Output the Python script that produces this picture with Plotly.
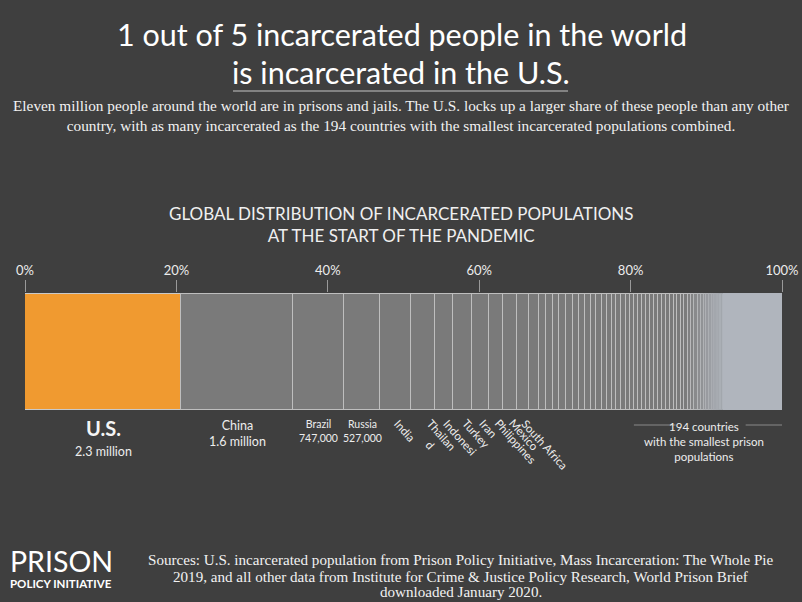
import plotly.graph_objects as go

# incarcerated people, thousands
named_countries = ["U.S.", "China", "Brazil", "Russia", "India", "Thailand",
                   "Indonesia", "Turkey", "Iran", "Philippines", "Mexico", "South Africa"]
named_pop = [2300, 1650, 747, 527, 448, 365, 266, 281, 237, 207, 204, 178]

# next countries, unlabeled
mid_pop = [148, 108, 99, 99, 99, 98, 89, 89, 84, 83, 78, 74, 74, 70, 70, 64, 64, 59]

# the 194 smallest: visible stripes, then the rest which are too thin to separate
small_pop = [59, 59, 59, 59, 59, 59, 59, 58, 58, 57, 55, 54, 49, 49, 49, 48, 46, 45,
             44, 42, 40, 39, 39, 38, 36, 34, 32]
small_rest = 854

big_labels = [("U.S.", "2.3 million"), ("China", "1.6 million"),
              ("Brazil", "747,000"), ("Russia", "527,000")]
rot_labels = ["India", "Thailan<br>d", "Indonesi", "Turkey", "Iran",
              "Philippines", "Mexico", "South Africa"]

source_lines = [
    "Sources: U.S. incarcerated population from Prison Policy Initiative, Mass Incarceration: The Whole Pie",
    "2019, and all other data from Institute for Crime &amp; Justice Policy Research, World Prison Brief",
    "downloaded January 2020.",
]

tick_vals = [0, 20, 40, 60, 80, 100]
tick_text = ["0%", "20%", "40%", "60%", "80%", "100%"]

BG = "#3f3f3f"
SANS = "Lato"
SERIF = "Liberation Serif"

segs = named_pop + mid_pop + small_pop + [small_rest]
total = sum(segs)
pct = [v / total * 100 for v in segs]

starts = []
acc = 0
for p in pct:
    starts.append(acc)
    acc += p
mids = [s + p / 2 for s, p in zip(starts, pct)]


def mix(c1, c2, t):
    return "rgb(%d,%d,%d)" % tuple(round(a + (b - a) * t) for a, b in zip(c1, c2))


fig = go.Figure()
n = len(segs)
for i, p in enumerate(pct):
    if i == 0:
        col, lcol, lw = "#f09a30", "#c9c9c9", 1.5
    else:
        t = min(max((starts[i] - 87.0) / 5.5, 0), 1)
        col = mix((122, 122, 122), (178, 183, 191), t)
        lcol = mix((190, 190, 190), (160, 165, 172), t)
        lw = 1.5 if t < 0.5 else 1
        if i == n - 1:
            lcol = col
    fig.add_trace(go.Bar(
        y=[0], x=[p], orientation="h",
        marker=dict(color=col, line=dict(color=lcol, width=lw)),
        hoverinfo="skip", showlegend=False))

# plot area is 25..782 px wide and 293..411 px tall
L, R, T, B = 25, 20, 293, 191


def ypx(py):
    return (602 - B - py) / (602 - T - B)


def xpx(px):
    return (px - L) / (802 - L - R)


ann = []


def txt(text, x, y, size, family=SANS, color="#ededed", xref="paper",
        xanchor="center", yanchor="middle", **kw):
    ann.append(dict(text=text, x=x, y=y, xref=xref, yref="paper", showarrow=False,
                    xanchor=xanchor, yanchor=yanchor,
                    font=dict(family=family, size=size, color=color), **kw))


# headline
txt("1 out of 5 incarcerated people in the world", xpx(402), ypx(34), 30.5,
    color="#ffffff")
txt("is incarcerated in the U.S.", xpx(401), ypx(72), 30.5, color="#ffffff")
txt("Eleven million people around the world are in prisons and jails. The U.S. locks up a larger share of these people than any other<br>"
    "country, with as many incarcerated as the 194 countries with the smallest incarcerated populations combined.",
    xpx(401), ypx(115), 15.3, family=SERIF, color="#f2f2f2")
txt("GLOBAL DISTRIBUTION OF INCARCERATED POPULATIONS<br>AT THE START OF THE PANDEMIC",
    xpx(401), ypx(224), 17, color="#f0f0f0")

# labels under the big segments
txt("<b>U.S.</b>", mids[0], ypx(428), 20, xref="x", color="#f5f5f5")
txt("2.3 million", mids[0], ypx(451), 12.5, xref="x")
txt(big_labels[1][0] + "<br>" + big_labels[1][1], mids[1], ypx(433), 12.5, xref="x")
for i in (2, 3):
    txt(big_labels[i][0] + "<br>" + big_labels[i][1], mids[i], ypx(431), 10.5, xref="x")

for k, lab in enumerate(rot_labels):
    shift = -12 if "<br>" in lab else -6
    txt(lab, mids[4 + k], ypx(414), 11.5, xref="x", textangle=48,
        xanchor="left", yanchor="top", xshift=shift)

# 194 smallest countries
grp_start = starts[len(named_pop) + len(mid_pop)]
grp_mid = (grp_start + 100) / 2
txt("194 countries<br>with the smallest prison<br>populations", grp_mid - 0.5, ypx(441),
    11.5, xref="x")

# footer
txt("PRISON", xpx(8), ypx(561), 28.5, color="#ffffff", xanchor="left")
txt("<b>POLICY INITIATIVE</b>", xpx(8), ypx(583), 11.5, color="#ffffff",
    xanchor="left")
for line, py in zip(source_lines, [560, 577, 592]):
    txt(line, xpx(461), ypx(py), 15.1, family=SERIF, color="#f2f2f2")

shapes = [
    dict(type="line", xref="paper", yref="paper", x0=xpx(233), x1=xpx(568),
         y0=ypx(91), y1=ypx(91), line=dict(color="#9a9a9a", width=1.5)),
    dict(type="line", xref="x", yref="paper", x0=grp_start, x1=grp_start + 5.5,
         y0=ypx(425), y1=ypx(425), line=dict(color="#8a8a8a", width=1)),
    dict(type="line", xref="x", yref="paper", x0=95.2, x1=100,
         y0=ypx(425), y1=ypx(425), line=dict(color="#8a8a8a", width=1)),
]

fig.update_layout(
    width=802, height=602, autosize=False,
    paper_bgcolor=BG, plot_bgcolor=BG,
    margin=dict(l=L, r=R, t=T, b=B, pad=0, autoexpand=False),
    barmode="stack", bargap=0,
    xaxis=dict(range=[0, 100], side="top", tickvals=tick_vals, ticktext=tick_text,
               ticks="outside", ticklen=12, tickcolor="#9a9a9a", tickwidth=1,
               tickfont=dict(family=SANS, size=13, color="#ececec"),
               showgrid=False, zeroline=False, showline=False, fixedrange=True,
               automargin=False),
    yaxis=dict(range=[-0.51, 0.51], visible=False, fixedrange=True, automargin=False),
    annotations=ann, shapes=shapes,
)

# drop the page's default body margin so the figure fills the window exactly
fig.write_html("out.html", config={"displayModeBar": False},
               post_script="document.body.style.margin='0';document.body.style.overflow='hidden';")
